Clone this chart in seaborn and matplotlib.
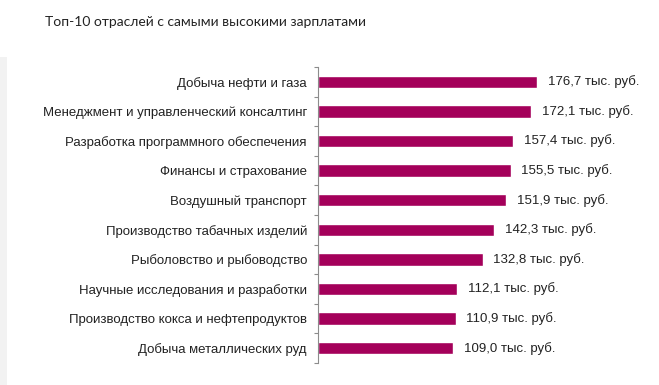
import numpy as np
import pandas as pd
import seaborn as sns
import matplotlib.pyplot as plt
from matplotlib.patches import Rectangle

industries = [
    "Добыча нефти и газа",
    "Менеджмент и управленческий консалтинг",
    "Разработка программного обеспечения",
    "Финансы и страхование",
    "Воздушный транспорт",
    "Производство табачных изделий",
    "Рыболовство и рыбоводство",
    "Научные исследования и разработки",
    "Производство кокса и нефтепродуктов",
    "Добыча металлических руд",
]
salaries = [176.7, 172.1, 157.4, 155.5, 151.9, 142.3, 132.8, 112.1, 110.9, 109.0]

BAR_COLOR = "#a4005a"
TEXT_COLOR = "#222222"

df = pd.DataFrame({"industry": industries, "salary": salaries})

sns.set_theme(style="white")
plt.rcParams["font.family"] = ["Liberation Sans", "DejaVu Sans"]

fig = plt.figure(figsize=(6.59, 3.85), dpi=100)
ax = fig.add_axes([318 / 659, 1 - 363 / 385, 341 / 659, 296 / 385])

sns.barplot(data=df, x="salary", y="industry", order=industries, color=BAR_COLOR,
            width=0.42, saturation=1, ax=ax)

for i, v in enumerate(salaries):
    ax.text(v + 8.5, i, f"{v:.1f}".replace(".", ",") + " тыс. руб.",
            va="center", ha="left", fontsize=9.5, color=TEXT_COLOR)

ax.set_xlim(0, 275)
ax.set_ylim(9.5, -0.5)
ax.set_xlabel("")
ax.set_ylabel("")
ax.set_xticks([])
for s in ["top", "right", "bottom"]:
    ax.spines[s].set_visible(False)
ax.spines["left"].set_color("#8c8c8c")
ax.spines["left"].set_linewidth(0.8)

# category labels without tick marks; tick marks sit at the category boundaries
ax.tick_params(axis="y", which="major", length=0, pad=8, labelsize=9.5, labelcolor=TEXT_COLOR)
ax.set_yticks(np.arange(-0.5, len(industries) + 0.5, 1.0), minor=True)
ax.tick_params(axis="y", which="minor", length=3, width=0.8, color="#8c8c8c", left=True)

fig.text(45 / 659, 1 - 22 / 385, "Топ-10 отраслей с самыми высокими зарплатами",
         fontsize=10, color=TEXT_COLOR, va="center", ha="left", family=["Lato", "DejaVu Sans"])

# light grey strip at the left edge of the page
fig.patches.append(Rectangle((0, 0), 7 / 659, 1 - 57 / 385, transform=fig.transFigure,
                             facecolor="#f2f2f2", edgecolor="none", zorder=0))

fig.savefig("out.png", dpi=100)
